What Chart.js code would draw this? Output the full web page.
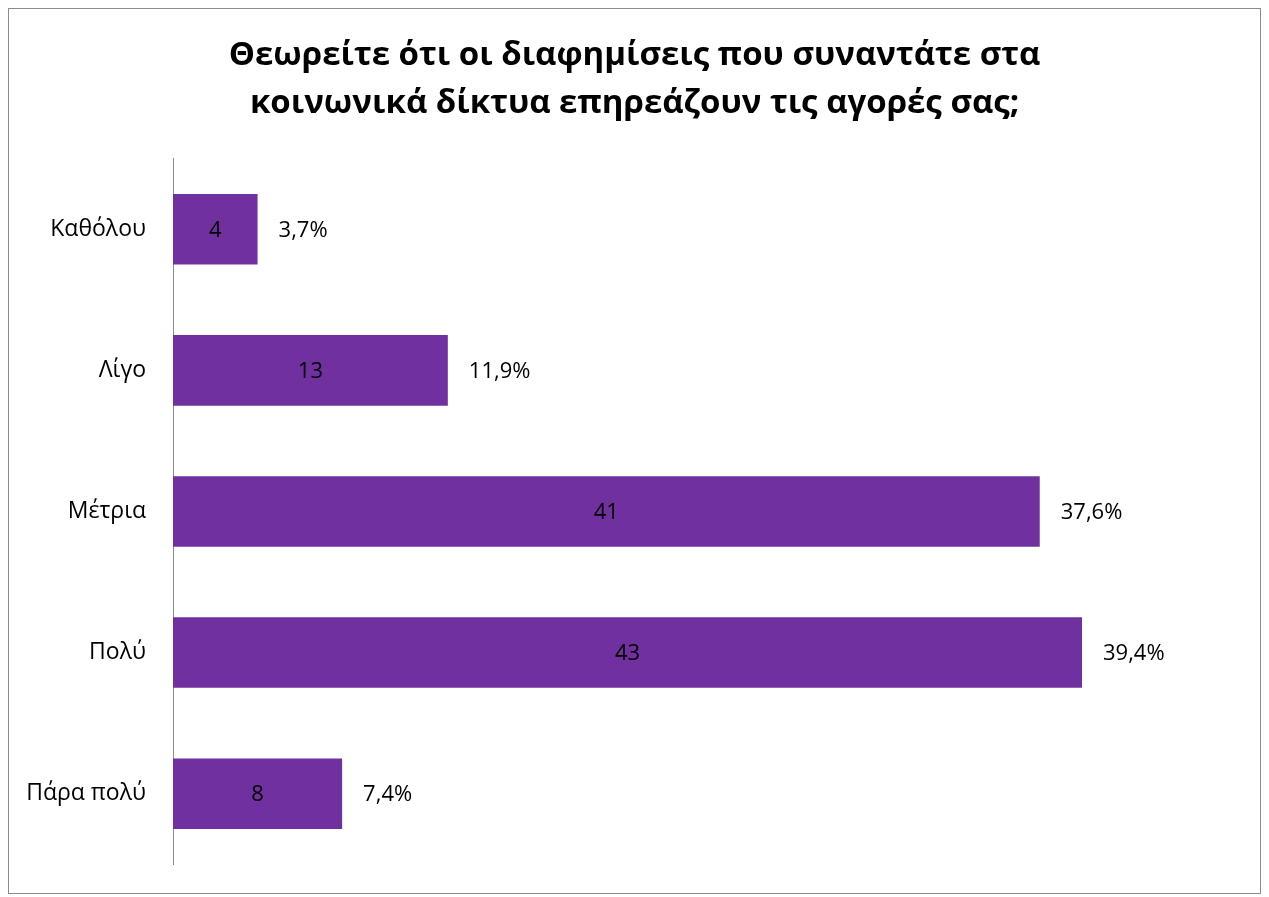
<!DOCTYPE html>
<html>
<head>
<meta charset="utf-8">
<script src="https://cdn.jsdelivr.net/npm/chart.js@4/dist/chart.umd.min.js"></script>
<style>
  html, body { margin: 0; padding: 0; background: #ffffff; }
  #wrap { position: relative; width: 1269px; height: 897px; }
</style>
</head>
<body>
<div id="wrap"><canvas id="c" width="1269" height="897"></canvas></div>
<script>
// Survey answers: how much do social-media ads influence purchases
const categories = ['Καθόλου', 'Λίγο', 'Μέτρια', 'Πολύ', 'Πάρα πολύ'];
const counts = [4, 13, 41, 43, 8];
const percents = ['3,7%', '11,9%', '37,6%', '39,4%', '7,4%'];
const titleLines = ['Θεωρείτε ότι οι διαφημίσεις που συναντάτε στα', 'κοινωνικά δίκτυα επηρεάζουν τις αγορές σας;'];

const FONT = "'Open Sans', 'Noto Sans', sans-serif";
const BAR_COLOR = '#7030A0';

// Outer frame around the whole chart
const framePlugin = {
  id: 'frame',
  beforeDraw(chart) {
    const ctx = chart.ctx;
    ctx.save();
    ctx.fillStyle = '#ffffff';
    ctx.fillRect(0, 0, chart.width, chart.height);
    ctx.strokeStyle = '#8c8c8c';
    ctx.lineWidth = 1;
    ctx.strokeRect(8.5, 8.5, 1252, 885);
    ctx.restore();
  }
};

// Center the title on the whole frame rather than the padded layout box
const centerTitle = {
  id: 'centerTitle',
  afterLayout(chart) {
    const tb = chart.titleBlock;
    if (tb) {
      tb.left = 39;
      tb.right = chart.width - 39;
      tb.width = tb.right - tb.left;
    }
  }
};

// Count inside each bar, share just past its end
const valueLabels = {
  id: 'valueLabels',
  afterDatasetsDraw(chart) {
    const ctx = chart.ctx;
    const meta = chart.getDatasetMeta(0);
    ctx.save();
    ctx.font = '22px ' + FONT;
    ctx.fillStyle = '#000000';
    ctx.textBaseline = 'middle';
    meta.data.forEach((bar, i) => {
      const left = bar.base;
      const right = bar.x;
      ctx.textAlign = 'center';
      ctx.fillText(String(counts[i]), (left + right) / 2, bar.y + 1);
      ctx.textAlign = 'left';
      ctx.fillText(percents[i], right + 21, bar.y + 1);
    });
    ctx.restore();
  }
};

new Chart(document.getElementById('c'), {
  type: 'bar',
  data: {
    labels: categories,
    datasets: [{
      data: counts,
      backgroundColor: BAR_COLOR,
      borderWidth: 0,
      barPercentage: 0.5,
      categoryPercentage: 1.0
    }]
  },
  plugins: [framePlugin, centerTitle, valueLabels],
  options: {
    indexAxis: 'y',
    responsive: false,
    animation: false,
    layout: { padding: { top: 10, right: 39, bottom: 30, left: 10 } },
    plugins: {
      legend: { display: false },
      tooltip: { enabled: false },
      title: {
        display: true,
        text: titleLines,
        color: '#000000',
        font: { family: FONT, size: 33, weight: 'bold', lineHeight: 1.45 },
        padding: { top: 22, bottom: 31 }
      }
    },
    scales: {
      x: {
        min: 0,
        max: 50,
        display: false
      },
      y: {
        grid: { display: false },
        border: { display: true, color: '#8c8c8c', width: 1 },
        ticks: {
          color: '#000000',
          font: { family: FONT, size: 23 },
          padding: 19
        },
        afterFit(scale) { scale.width = 163; }
      }
    }
  }
});
</script>
</body>
</html>
